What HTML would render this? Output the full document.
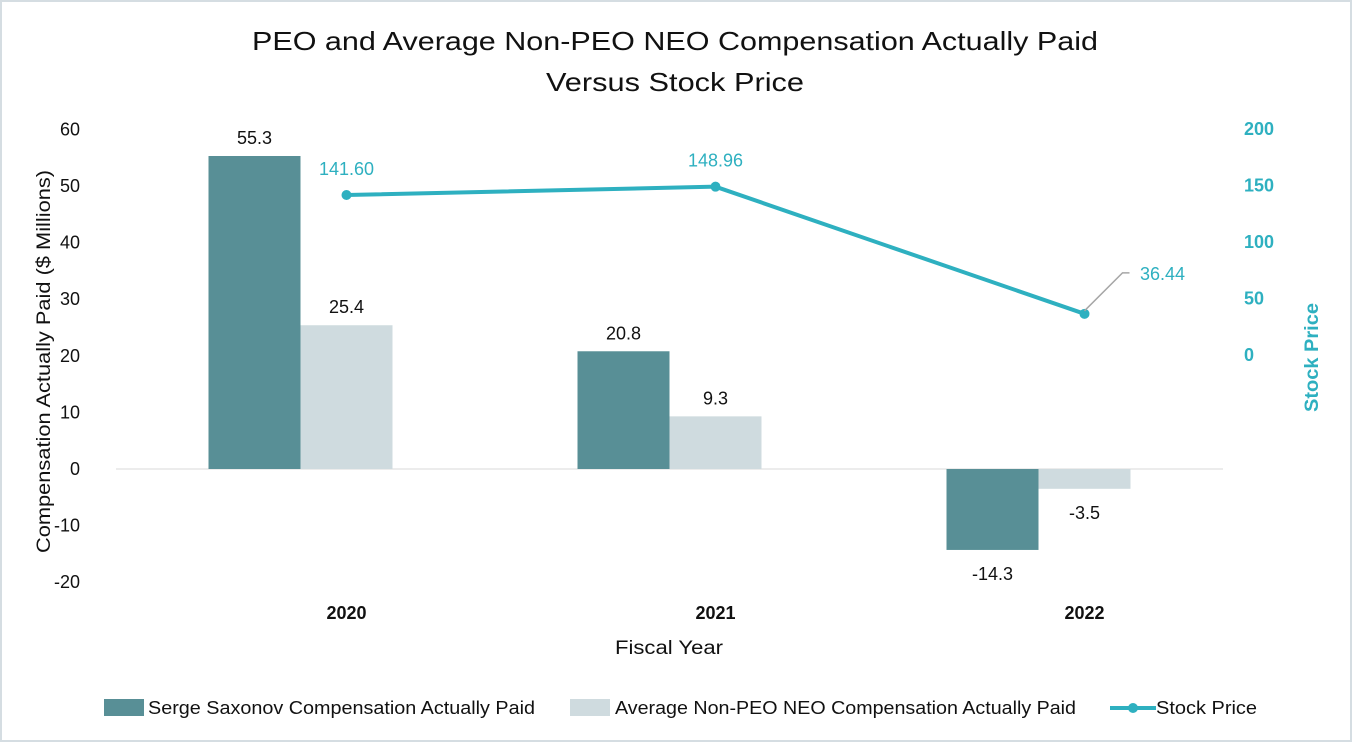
<!DOCTYPE html>
<html><head><meta charset="utf-8"><style>
body{margin:0;background:#fff;}
svg{display:block;font-family:"Liberation Sans",Arial,sans-serif;}
</style></head><body>
<svg id="chart" width="1352" height="742" viewBox="0 0 1352 742">
<rect x="1" y="1" width="1350" height="740" fill="#fff" stroke="#d5dde2" stroke-width="2"/>
<text x="252" y="50" textLength="846" lengthAdjust="spacingAndGlyphs" font-size="26" fill="#111">PEO and Average Non-PEO NEO Compensation Actually Paid</text>
<text x="546" y="91" textLength="258" lengthAdjust="spacingAndGlyphs" font-size="26" fill="#111">Versus Stock Price</text>
<text transform="translate(50,553) rotate(-90)" textLength="383" lengthAdjust="spacingAndGlyphs" font-size="19" fill="#111">Compensation Actually Paid ($ Millions)</text>
<text transform="translate(1318,412) rotate(-90)" textLength="109" lengthAdjust="spacingAndGlyphs" font-size="19" font-weight="bold" fill="#2eb0c0">Stock Price</text>
<text x="615" y="654" textLength="108" lengthAdjust="spacingAndGlyphs" font-size="19" fill="#111">Fiscal Year</text>
<g id="g"></g>
<g>
<rect x="104" y="699" width="40" height="17" fill="#588f96"/>
<text x="148" y="714" textLength="387" lengthAdjust="spacingAndGlyphs" font-size="18" fill="#111">Serge Saxonov Compensation Actually Paid</text>
<rect x="570" y="699" width="40" height="17" fill="#cfdbdf"/>
<text x="615" y="714" textLength="461" lengthAdjust="spacingAndGlyphs" font-size="18" fill="#111">Average Non-PEO NEO Compensation Actually Paid</text>
<line x1="1110" y1="708" x2="1156" y2="708" stroke="#2eb0c0" stroke-width="4"/>
<circle cx="1133" cy="708" r="5" fill="#2eb0c0"/>
<text x="1156" y="714" textLength="101" lengthAdjust="spacingAndGlyphs" font-size="18" fill="#111">Stock Price</text>
</g>
</svg>
<script>
const categories=["2020","2021","2022"];
const peoValues=[55.3,20.8,-14.3];
const neoValues=[25.4,9.3,-3.5];
const stockValues=[141.60,148.96,36.44];
const leftTicks=[60,50,40,30,20,10,0,-10,-20];
const rightTicks=[200,150,100,50,0];

const NS="http://www.w3.org/2000/svg";
const g=document.getElementById('g');
function mk(tag,attrs,txt){const e=document.createElementNS(NS,tag);for(const k in attrs)e.setAttribute(k,attrs[k]);if(txt!==undefined)e.textContent=txt;g.appendChild(e);return e;}
const plotL=116,plotR=1223;
const yL=v=>469-v*5.66;
const yR=v=>355-v*1.13;
const band=(plotR-plotL)/categories.length;
const xC=i=>plotL+band*(i+0.5);
const bw=92;

leftTicks.forEach(t=>{
  const e=mk('text',{x:80,y:yL(t)+6,'text-anchor':'end','font-size':18,fill:'#111'},String(t));
  
  
});
rightTicks.forEach(t=>{
  const e=mk('text',{x:1244,y:yR(t)+6,'font-size':18,'font-weight':'bold',fill:'#2eb0c0'},String(t));
  
  
});
const zl=mk('line',{x1:plotL,x2:plotR,y1:yL(0),y2:yL(0),stroke:'#d9d9d9','stroke-width':1});



categories.forEach((c,i)=>{
  const cx=xC(i);
  [[peoValues,'#588f96',cx-bw,'bar-peo-'],[neoValues,'#cfdbdf',cx,'bar-neo-']].forEach(([arr,col,x,nm])=>{
    const v=arr[i];const y0=yL(0),y1=yL(v);
    const r=mk('rect',{x:x,y:Math.min(y0,y1),width:bw,height:Math.abs(y1-y0),fill:col});
    
    
    const ly=v>=0?y1-12:y1+30;
    const t=mk('text',{x:x+bw/2,y:ly,'text-anchor':'middle','font-size':18,fill:'#111'},v.toFixed(1));
    
    
  });
  const xl=mk('text',{x:cx+46,y:619,'text-anchor':'middle','font-size':18,'font-weight':'bold',fill:'#111'},c);
  
  
});
const sx=i=>xC(i)+46;
const pl=mk('polyline',{points:stockValues.map((v,i)=>sx(i)+','+yR(v)).join(' '),fill:'none',stroke:'#2eb0c0','stroke-width':4,'stroke-linejoin':'round'});


stockValues.forEach((v,i)=>{
  const x=sx(i),y=yR(v);
  const c=mk('circle',{cx:x,cy:y,r:5,fill:'#2eb0c0'});
  
  
  let lx=x,ly=y-20;
  if(i===categories.length-1){
    const ld=mk('polyline',{points:`${x},${y-3} ${x+38},${y-41} ${x+45},${y-41}`,fill:'none',stroke:'#a6a6a6','stroke-width':1.5});
    
    
    lx=x+78;ly=y-34;
  }
  const t=mk('text',{x:lx,y:ly,'text-anchor':'middle','font-size':18,fill:'#2eb0c0'},v.toFixed(2));
  
  
});
</script>
</body></html>
